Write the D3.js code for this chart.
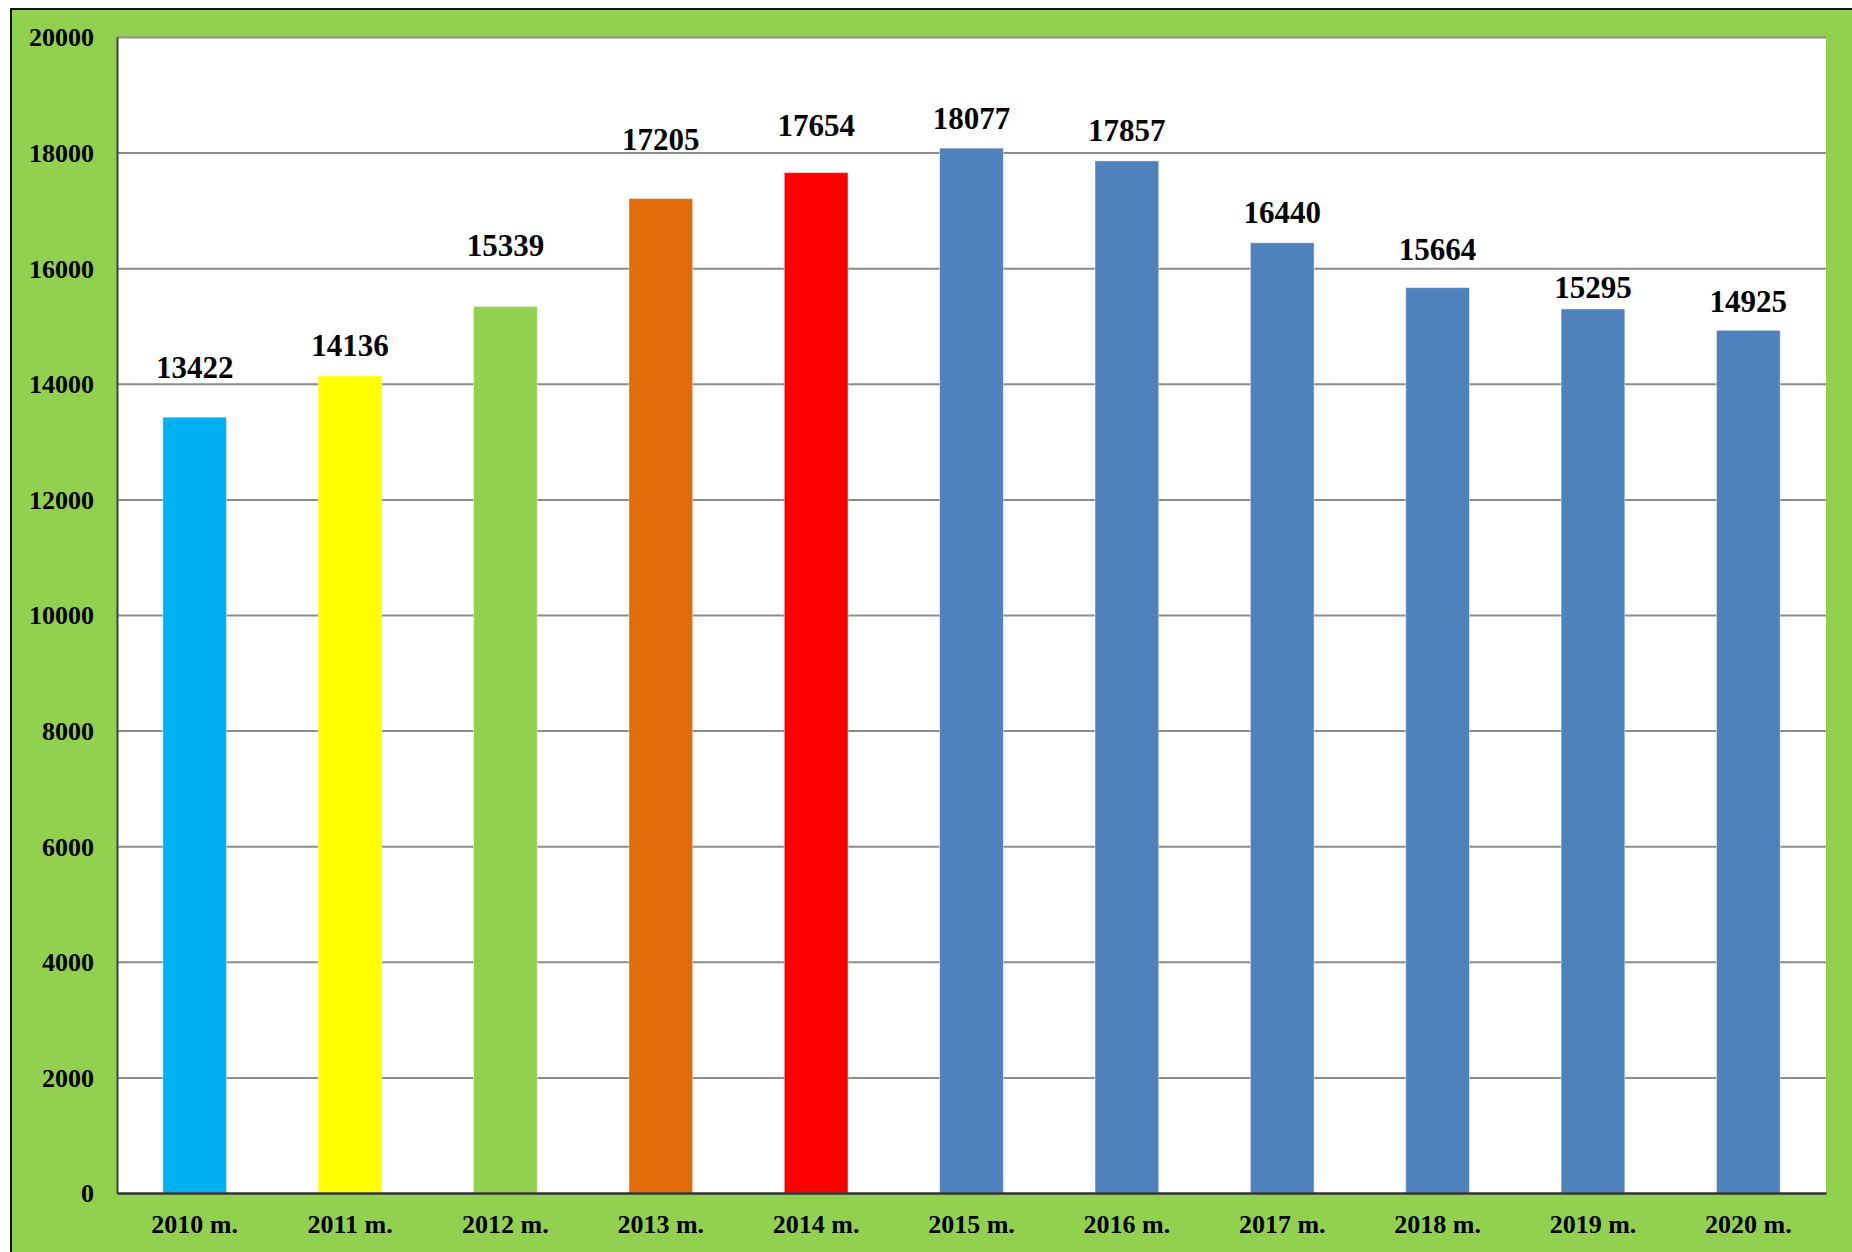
<!DOCTYPE html>
<html>
<head>
<meta charset="utf-8">
<script src="https://cdn.jsdelivr.net/npm/d3@7"></script>
<style>
  body { margin: 0; background: #fff; }
  text { font-family: "Liberation Serif", "Times New Roman", serif; font-weight: bold; fill: #000; }
</style>
</head>
<body>
<div id="chart"></div>
<script>
// Chart data
const years = ["2010 m.", "2011 m.", "2012 m.", "2013 m.", "2014 m.", "2015 m.",
               "2016 m.", "2017 m.", "2018 m.", "2019 m.", "2020 m."];
const values = [13422, 14136, 15339, 17205, 17654, 18077, 17857, 16440, 15664, 15295, 14925];
const yTicks = [0, 2000, 4000, 6000, 8000, 10000, 12000, 14000, 16000, 18000, 20000];

// Bar colours (first five years highlighted, the rest default blue)
const barColors = ["#00B0F0", "#FFFF00", "#92D050", "#E36C0A", "#FF0000",
                   "#4F81BD", "#4F81BD", "#4F81BD", "#4F81BD", "#4F81BD", "#4F81BD"];

// Labels were placed by hand in the original, so each gets its own lift above the bar (px)
const labelLift = [39, 20, 50, 49, 37, 19, 20, 20, 28, 11, 18];

const W = 1852, H = 1252;
const plot = { left: 117, right: 1826, top: 37, bottom: 1193 };

const svg = d3.select("#chart")
    .append("svg")
    .attr("width", W)
    .attr("height", H);

// Green background with the black frame visible on top and left
svg.append("rect")
    .attr("x", 11).attr("y", 9)
    .attr("width", W).attr("height", H)
    .attr("fill", "#92D050")
    .attr("stroke", "#111")
    .attr("stroke-width", 2);

// White plot area
svg.append("rect")
    .attr("x", plot.left).attr("y", plot.top)
    .attr("width", plot.right - plot.left)
    .attr("height", plot.bottom - plot.top)
    .attr("fill", "#fff");

// Scales
const x = d3.scaleBand()
    .domain(years)
    .range([plot.left, plot.right])
    .paddingInner(0.59)
    .paddingOuter(0.295);

const y = d3.scaleLinear()
    .domain([0, 20000])
    .range([plot.bottom, plot.top]);

// Grid lines
const grid = svg.append("g")
    .attr("transform", `translate(${plot.left},0)`)
    .call(d3.axisLeft(y)
        .tickValues(yTicks.filter(t => t > 0))
        .tickSize(-(plot.right - plot.left))
        .tickFormat(""));
grid.select(".domain").remove();
grid.selectAll(".tick line")
    .attr("stroke", "#8c8c8c")
    .attr("stroke-width", 2);

// Bars
svg.append("g")
    .selectAll("rect")
    .data(values)
    .join("rect")
    .attr("x", (d, i) => x(years[i]))
    .attr("y", d => y(d))
    .attr("width", x.bandwidth())
    .attr("height", d => y(0) - y(d))
    .attr("fill", (d, i) => barColors[i])
    .attr("stroke", "rgba(255,255,255,0.45)")
    .attr("stroke-width", 1);

// Value labels
svg.append("g")
    .selectAll("text")
    .data(values)
    .join("text")
    .attr("x", (d, i) => x(years[i]) + x.bandwidth() / 2)
    .attr("y", (d, i) => y(d) - labelLift[i])
    .attr("text-anchor", "middle")
    .attr("font-size", 31)
    .text(d => d);

// Y axis
const yAxis = svg.append("g")
    .attr("transform", `translate(${plot.left},0)`)
    .call(d3.axisLeft(y).tickValues(yTicks).tickFormat(d3.format("d")).tickSize(0).tickPadding(23));
yAxis.select(".domain").attr("stroke", "#404040").attr("stroke-width", 2);
yAxis.selectAll("text")
    .attr("font-size", 26)
    .attr("font-family", null)
    .attr("dy", "0.34em");

// X axis
const xAxis = svg.append("g")
    .attr("transform", `translate(0,${plot.bottom})`)
    .call(d3.axisBottom(x).tickSize(0).tickPadding(22));
xAxis.select(".domain").attr("stroke", "#333").attr("stroke-width", 2.5);
xAxis.selectAll("text")
    .attr("font-size", 26)
    .attr("font-family", null);

svg.selectAll(".tick text").attr("fill", "#000");
</script>
</body>
</html>
